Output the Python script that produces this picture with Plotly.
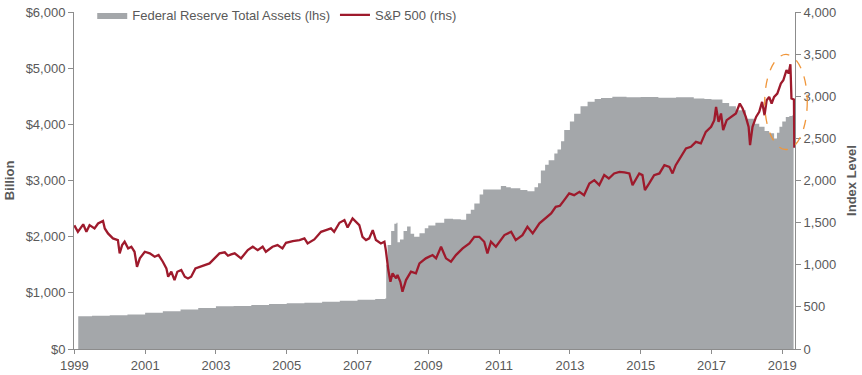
import plotly.graph_objects as go

# ---- Federal Reserve Total Assets ($ billion), x in chart-axis years ----
fed_x = [1999.11, 1999.5, 2000.0, 2000.5, 2001.0, 2001.5, 2002.0, 2002.5, 2003.0, 2003.5,
         2004.0, 2004.5, 2005.0, 2005.5, 2006.0, 2006.5, 2007.0, 2007.5, 2007.78, 2007.81,
         2007.85, 2007.95, 2008.04, 2008.1, 2008.13, 2008.2, 2008.3, 2008.4, 2008.5, 2008.6,
         2008.75, 2008.9, 2009.0, 2009.2, 2009.45, 2009.7, 2009.92, 2010.07, 2010.2, 2010.3,
         2010.45, 2010.55, 2010.8, 2011.05, 2011.2, 2011.33, 2011.6, 2011.8, 2012.0, 2012.1,
         2012.18, 2012.3, 2012.4, 2012.56, 2012.65, 2012.75, 2012.84, 2013.0, 2013.12, 2013.3,
         2013.5, 2013.7, 2013.88, 2014.2, 2014.6, 2015.0, 2015.5, 2016.0, 2016.5, 2016.8,
         2017.0, 2017.31, 2017.5, 2017.69, 2017.97, 2018.2, 2018.35, 2018.5, 2018.63, 2018.77,
         2018.85, 2018.92, 2019.0, 2019.1, 2019.2, 2019.29, 2019.32]
fed_v = [585, 590, 600, 615, 645, 670, 705, 730, 760, 765,
         785, 800, 815, 825, 840, 860, 875, 890, 900, 1500,
         1850, 2100, 2230, 2250, 1900, 1950, 2100, 2180, 2050, 2000,
         2060, 2150, 2200, 2250, 2320, 2310, 2300, 2410, 2480, 2590,
         2750, 2840, 2840, 2900, 2880, 2860, 2830, 2810, 2880, 2950,
         3180, 3280, 3360, 3480, 3550, 3700, 3900, 4050, 4190, 4320,
         4400, 4450, 4470, 4490, 4480, 4485, 4475, 4480, 4460, 4450,
         4440, 4380, 4320, 4250, 4100, 4010, 3955, 3880, 3840, 3750,
         3850, 3955, 4050, 4130, 4150, 4165, 4165]

# ---- S&P 500 index level ----
spx_x = [1999.0, 1999.1, 1999.25, 1999.34, 1999.43, 1999.57, 1999.67, 1999.81, 1999.86, 1999.95,
         2000.09, 2000.23, 2000.28, 2000.35, 2000.42, 2000.52, 2000.61, 2000.70, 2000.77, 2000.85,
         2000.99, 2001.13, 2001.27, 2001.38, 2001.5, 2001.6, 2001.65, 2001.74, 2001.83, 2001.91,
         2002.02, 2002.12, 2002.21, 2002.3, 2002.42, 2002.54, 2002.68, 2002.82, 2002.96, 2003.1,
         2003.25, 2003.34, 2003.43, 2003.53, 2003.71, 2003.9, 2004.04, 2004.18, 2004.32, 2004.41,
         2004.6, 2004.74, 2004.88, 2004.98, 2005.17, 2005.36, 2005.5, 2005.59, 2005.78, 2005.97,
         2006.11, 2006.25, 2006.34, 2006.49, 2006.63, 2006.72, 2006.86, 2006.96, 2007.05, 2007.14,
         2007.24, 2007.33, 2007.43, 2007.52, 2007.66, 2007.76, 2007.8, 2007.87, 2007.93, 2007.99,
         2008.09, 2008.13, 2008.21, 2008.27, 2008.37, 2008.51, 2008.65, 2008.75, 2008.93, 2009.12,
         2009.22, 2009.36, 2009.5, 2009.64, 2009.78, 2009.97, 2010.16, 2010.3, 2010.44, 2010.58,
         2010.67, 2010.77, 2010.91, 2011.15, 2011.34, 2011.47, 2011.66, 2011.8, 2011.95, 2012.14,
         2012.32, 2012.47, 2012.6, 2012.72, 2012.84, 2012.98, 2013.12, 2013.27, 2013.4, 2013.55,
         2013.69, 2013.83, 2013.97, 2014.1, 2014.25, 2014.4, 2014.54, 2014.68, 2014.77, 2014.87,
         2014.96, 2015.05, 2015.12, 2015.24, 2015.38, 2015.53, 2015.67, 2015.81, 2015.9, 2015.99,
         2016.14, 2016.28, 2016.42, 2016.56, 2016.7, 2016.84, 2016.99, 2017.08, 2017.13, 2017.2,
         2017.27, 2017.33, 2017.43, 2017.55, 2017.69, 2017.8, 2017.88, 2017.97, 2018.05, 2018.09,
         2018.16, 2018.26, 2018.35, 2018.43, 2018.5, 2018.56, 2018.63, 2018.7, 2018.77, 2018.86,
         2018.96, 2019.03, 2019.12, 2019.18, 2019.23, 2019.26, 2019.33, 2019.34]
spx_v = [1467, 1391, 1480, 1391, 1470, 1431, 1490, 1520, 1431, 1372,
         1313, 1293, 1135, 1233, 1273, 1194, 1214, 1154, 976, 1076,
         1154, 1135, 1095, 1115, 1036, 957, 858, 917, 818, 917,
         937, 858, 838, 858, 957, 976, 996, 1016, 1076, 1135,
         1147, 1107, 1123, 1135, 1076, 1174, 1214, 1174, 1214, 1154,
         1214, 1233, 1194, 1261, 1281, 1293, 1313, 1253, 1301, 1391,
         1411, 1431, 1391, 1498, 1530, 1443, 1550, 1510, 1471, 1332,
         1293, 1313, 1411, 1293, 1253, 1273, 1174, 937, 798, 898,
         838, 878, 798, 680, 818, 917, 898, 1016, 1076, 1115,
         1076, 1214, 1076, 1036, 1115, 1194, 1253, 1332, 1332, 1273,
         1135, 1273, 1214, 1352, 1391, 1293, 1352, 1450, 1372, 1491,
         1550, 1609, 1688, 1700, 1767, 1847, 1826, 1866, 1826, 1965,
         2004, 1945, 2064, 2024, 2084, 2103, 2096, 2084, 1945, 2024,
         2084, 2064, 1886, 1965, 2064, 2084, 2182, 2162, 2084, 2182,
         2281, 2380, 2400, 2459, 2440, 2577, 2637, 2716, 2874, 2696,
         2795, 2597, 2716, 2755, 2795, 2914, 2855, 2755, 2637, 2419,
         2637, 2755, 2815, 2933, 2775, 2953, 2992, 2914, 2992, 3032,
         3151, 3190, 3309, 3270, 3380, 2973, 2961, 2390]

year_ticks = [1999, 2001, 2003, 2005, 2007, 2009, 2011, 2013, 2015, 2017, 2019]
left_ticks = [0, 1000, 2000, 3000, 4000, 5000, 6000]
right_ticks = [0, 500, 1000, 1500, 2000, 2500, 3000, 3500, 4000]

GRAY_TXT = "#595959"
AXIS = "#8c8c8c"
FONT = "Liberation Sans, Arial, sans-serif"

fig = go.Figure()
fig.add_trace(go.Scatter(
    x=fed_x, y=fed_v, name="Federal Reserve Total Assets (lhs)",
    mode="lines", line=dict(width=0, shape="hv", color="#a4a7aa"),
    fill="tozeroy", fillcolor="#a4a7aa", hoverinfo="skip"))
fig.add_trace(go.Scatter(
    x=spx_x, y=spx_v, name="S&P 500 (rhs)", yaxis="y2",
    mode="lines", line=dict(width=2.3, color="#9e1a2c")))

fig.update_layout(
    width=862, height=375,
    margin=dict(l=74, r=67, t=12, b=26, autoexpand=False),
    paper_bgcolor="white", plot_bgcolor="white",
    font=dict(family=FONT, size=13, color=GRAY_TXT),
    showlegend=True,
    legend=dict(orientation="h", xref="container", yref="container",
                x=0.107, y=1.0, xanchor="left", yanchor="top",
                bgcolor="rgba(0,0,0,0)", font=dict(size=13, color=GRAY_TXT),
                itemwidth=30, tracegroupgap=0),
    xaxis=dict(range=[1998.99, 2019.36], tickmode="array", tickvals=year_ticks,
               ticktext=[str(y) for y in year_ticks], automargin=False,
               showgrid=False, zeroline=False, showline=True, linecolor=AXIS, linewidth=1,
               ticks="outside", ticklen=4, tickcolor=AXIS,
               tickfont=dict(size=13, color=GRAY_TXT)),
    yaxis=dict(range=[0, 6000], tickmode="array", tickvals=left_ticks,
               ticktext=["$" + format(v, ",") for v in left_ticks], automargin=False,
               showgrid=False, zeroline=False,
               showline=True, linecolor=AXIS, linewidth=1, ticks="outside", ticklen=5,
               tickcolor=AXIS, tickfont=dict(size=13, color=GRAY_TXT),
               title=dict(text="<b>Billion</b>", standoff=8,
                          font=dict(size=13, color=GRAY_TXT))),
    yaxis2=dict(range=[0, 4000], overlaying="y", side="right", tickmode="array",
                tickvals=right_ticks, ticktext=[format(v, ",") for v in right_ticks],
                automargin=False, showgrid=False, zeroline=False,
                showline=True, linecolor=AXIS, linewidth=1, ticks="outside", ticklen=5,
                tickcolor=AXIS, tickfont=dict(size=13, color=GRAY_TXT),
                title=dict(text="<b>Index Level</b>", standoff=11,
                           font=dict(size=13, color=GRAY_TXT))),
    shapes=[dict(type="circle", xref="paper", yref="paper",
                 x0=0.958, x1=1.017, y0=0.592, y1=0.874,
                 line=dict(color="#f0963a", width=1.3, dash="dash"),
                 fillcolor="rgba(0,0,0,0)", layer="above")],
)

fig.write_html("out.html", config={"displayModeBar": False},
               post_script="document.body.style.margin='0';")
